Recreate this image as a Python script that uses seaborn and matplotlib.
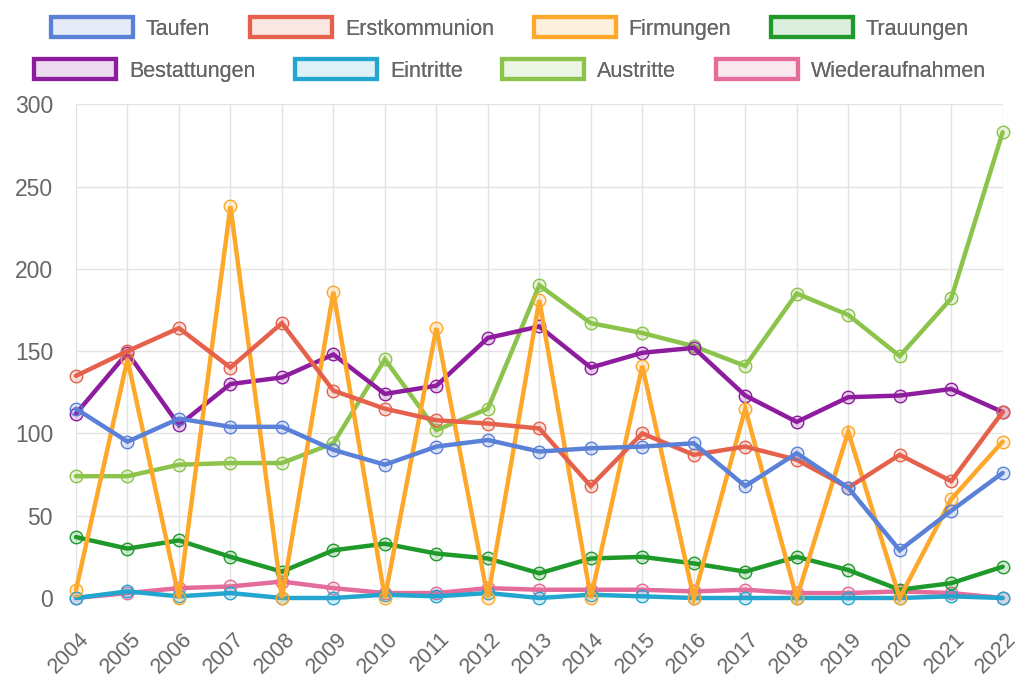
import matplotlib
matplotlib.use("Agg")
import matplotlib.pyplot as plt
import matplotlib.transforms as mtransforms
from matplotlib.colors import to_rgba
from matplotlib.patches import Patch
import pandas as pd
import seaborn as sns

# ─── DATA ────────────────────────────────────────────────────────────────────
years = list(range(2004, 2023))

taufen          = [115, 95, 109, 104, 104, 90, 81, 92, 96, 89, 91, 92, 94, 68, 88, 67, 29, 53, 76]
erstkommunion   = [135, 150, 164, 140, 167, 126, 115, 108, 106, 103, 68, 100, 87, 92, 84, 67, 87, 71, 113]
firmungen       = [5, 145, 0, 238, 0, 186, 0, 164, 0, 181, 0, 141, 0, 115, 0, 101, 0, 60, 95]
trauungen       = [37, 30, 35, 25, 16, 29, 33, 27, 24, 15, 24, 25, 21, 16, 25, 17, 5, 9, 19]
bestattungen    = [112, 149, 105, 130, 134, 148, 124, 129, 158, 165, 140, 149, 152, 123, 107, 122, 123, 127, 113]
eintritte       = [0, 4, 1, 3, 0, 0, 2, 1, 3, 0, 2, 1, 0, 0, 0, 0, 0, 1, 0]
austritte       = [74, 74, 81, 82, 82, 94, 145, 102, 115, 190, 167, 161, 153, 141, 185, 172, 147, 182, 283]
wiederaufnahmen = [0, 3, 6, 7, 10, 6, 3, 3, 6, 5, 5, 5, 4, 5, 3, 3, 4, 3, 0]

series_names = ["Taufen", "Erstkommunion", "Firmungen", "Trauungen",
                "Bestattungen", "Eintritte", "Austritte", "Wiederaufnahmen"]
series_values = [taufen, erstkommunion, firmungen, trauungen,
                 bestattungen, eintritte, austritte, wiederaufnahmen]
colors = ["#5b80d8", "#e5614c", "#fda82a", "#1f9a2a",
          "#8e1c9e", "#22a6cf", "#8cc34b", "#e36c9a"]

df = pd.DataFrame(
    [(y, name, v) for name, vals in zip(series_names, series_values)
     for y, v in zip(years, vals)],
    columns=["Jahr", "Serie", "Wert"],
)

# ─── STYLE ───────────────────────────────────────────────────────────────────
sns.set_style("white")
plt.rcParams["font.family"] = ["Liberation Sans", "DejaVu Sans"]
GRID = "#e3e3e3"
TXT = "#666666"

fig = plt.figure(figsize=(10.2, 6.77), dpi=100)
ax = fig.add_axes([0.0745, 0.1167, 0.9085, 0.7293])

# Chart.js draws the first dataset on top -> reverse zorder
for i, (name, col) in enumerate(zip(series_names, colors)):
    sub = df[df["Serie"] == name]
    sns.lineplot(data=sub, x="Jahr", y="Wert", ax=ax, color=col, lw=3.2,
                 marker="o", markersize=9, markerfacecolor=to_rgba(col, 0.2),
                 markeredgecolor=col, markeredgewidth=1.0,
                 solid_joinstyle="miter", legend=False, clip_on=False,
                 zorder=20 - i)

ax.set_xlim(2004, 2022)
ax.set_ylim(0, 300)
ax.set_xticks(years)
ax.set_yticks(range(0, 301, 50))
ax.set_xlabel("")
ax.set_ylabel("")
ax.grid(True, color=GRID, lw=1)
for s in ax.spines.values():
    s.set_visible(False)
ax.tick_params(axis="both", colors=GRID, length=13, width=1,
               labelcolor=TXT)
ax.tick_params(axis="y", pad=3.5, labelsize=16.5)
ax.tick_params(axis="x", pad=6, labelsize=15.5)
shift = mtransforms.ScaledTranslation(3 / 100, -4 / 100, fig.dpi_scale_trans)
for lab in ax.get_xticklabels():
    lab.set_rotation(45)
    lab.set_ha("right")
    lab.set_rotation_mode("anchor")
    lab.set_transform(lab.get_transform() + shift)

# ─── LEGEND (two independently centred rows) ─────────────────────────────────
handles = [Patch(facecolor=to_rgba(c, 0.08), edgecolor=c, lw=3) for c in colors]
for row, ypos in [(0, 0.958), (1, 0.896)]:
    idx = range(row * 4, row * 4 + 4)
    leg = fig.legend([handles[i] for i in idx], [series_names[i] for i in idx],
                     loc="center", bbox_to_anchor=(0.5, ypos), ncol=4,
                     frameon=False, fontsize=15.5, handlelength=3.8,
                     handleheight=1.05, handletextpad=0.6, columnspacing=1.85,
                     labelcolor=TXT)
    fig.add_artist(leg)

plt.savefig("out.png", dpi=100)
plt.close()
